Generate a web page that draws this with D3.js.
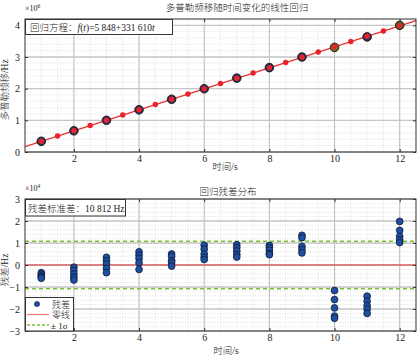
<!DOCTYPE html>
<html><head><meta charset="utf-8">
<script src="https://cdn.jsdelivr.net/npm/d3@7"></script>
<style>
html,body{margin:0;padding:0;background:#fff;}
text{font-family:"Liberation Serif","Noto Sans CJK SC",serif;fill:#222;font-weight:300;}
</style></head>
<body><svg id="c" width="417" height="357"></svg>
<script>
// ---- data ----
const times = [1,2,3,4,5,6,7,8,9,10,11,12];
const observed = [0.337,0.669,1.001,1.333,1.665,1.998,2.333,2.665,2.999,3.303,3.635,3.999]; // x10^6 Hz
const observedFill = ["#2b2d5e","#2b2d5e","#2b2d5e","#2b2d5e","#2b2d5e","#2b2d5e","#2b2d5e","#2b2d5e","#2b2d5e","#6b6a22","#2b2d5e","#3f5e2c"];
const fitT = [1,1.5,2,2.5,3,3.5,4,4.5,5,5.5,6,6.5,7,7.5,8,8.5,9,9.5,10,10.5,11,11.5,12];
const fitV = [0.3375,0.5033,0.6691,0.8349,1.0007,1.1665,1.3323,1.4981,1.6639,1.8297,1.9955,2.1613,2.3271,2.4929,2.6587,2.8245,2.9903,3.1561,3.3219,3.4877,3.6535,3.8193,3.9851];
const lineT = [0.5,12.5];
const lineV = [0.1717,4.1509];
const residuals = [ // x10^4 Hz, per time
  [-0.35,-0.42,-0.5,-0.55,-0.6],
  [-0.1,-0.25,-0.42,-0.56,-0.68],
  [0.35,0.2,0.05,-0.15,-0.35],
  [0.6,0.45,0.3,0.1,-0.2],
  [0.5,0.4,0.2,0.1,-0.05],
  [0.9,0.72,0.5,0.35,0.25],
  [0.92,0.79,0.64,0.48,0.36],
  [0.89,0.79,0.67,0.52,0.47],
  [1.35,1.24,0.85,0.7,0.55],
  [-1.16,-1.57,-1.95,-2.32,-2.42],
  [-1.42,-1.64,-1.85,-2.0,-2.2],
  [1.98,1.57,1.3,1.15,1.02]
];
const sigma = 1.0812;
const xTicks = [2,4,6,8,10,12];
const yTicksTop = [0,1,2,3,4];
const yTicksBot = [-3,-2,-1,0,1,2,3];

const svg = d3.select("#c");
const L = 25, R = 416;

function panel(y0, y1, yDomain, yTicks, yMinorStep){
  const x = d3.scaleLinear().domain([0.5,12.5]).range([L,R]);
  const y = d3.scaleLinear().domain(yDomain).range([y1,y0]);
  const g = svg.append("g");
  const xm = d3.range(1,12.5,0.5);
  g.selectAll(null).data(xm).enter().append("line")
    .attr("x1",d=>x(d)).attr("x2",d=>x(d)).attr("y1",y0).attr("y2",y1)
    .attr("stroke","#d4d4d4").attr("stroke-width",0.7).attr("stroke-dasharray","1,1.5");
  const n = Math.round((yDomain[1]-yDomain[0])/yMinorStep);
  const ym = d3.range(n+1).map(i=>yDomain[0]+i*yMinorStep);
  g.selectAll(null).data(ym).enter().append("line")
    .attr("y1",d=>y(d)).attr("y2",d=>y(d)).attr("x1",L).attr("x2",R)
    .attr("stroke","#d4d4d4").attr("stroke-width",0.7).attr("stroke-dasharray","1,1.5");
  g.selectAll(null).data(xTicks).enter().append("line")
    .attr("x1",d=>x(d)).attr("x2",d=>x(d)).attr("y1",y0).attr("y2",y1)
    .attr("stroke","#bdbdbd").attr("stroke-width",1);
  g.selectAll(null).data(yTicks).enter().append("line")
    .attr("y1",d=>y(d)).attr("y2",d=>y(d)).attr("x1",L).attr("x2",R)
    .attr("stroke","#c6c6c6").attr("stroke-width",1.4);
  return {x,y,g,y0,y1};
}

function axes(p, yTicks){
  const {x,y,y0,y1} = p;
  const fmt = d3.format("d");
  const ax = svg.append("g").attr("transform",`translate(0,${y1})`)
    .call(d3.axisBottom(x).tickValues(xTicks).tickSize(-3).tickPadding(3).tickFormat(fmt));
  const axT = svg.append("g").attr("transform",`translate(0,${y0})`)
    .call(d3.axisTop(x).tickValues(xTicks).tickSize(-3).tickFormat(""));
  const ay = svg.append("g").attr("transform",`translate(${L},0)`)
    .call(d3.axisLeft(y).tickValues(yTicks).tickSize(-3).tickPadding(5).tickFormat(d=>d<0?"\u2212"+(-d):d));
  const ayR = svg.append("g").attr("transform",`translate(${R},0)`)
    .call(d3.axisRight(y).tickValues(yTicks).tickSize(-3).tickFormat(""));
  [ax,axT,ay,ayR].forEach(a=>{
    a.select(".domain").remove();
    a.selectAll("line").attr("stroke","#333");
    a.selectAll("text").attr("font-size",10).attr("font-family","Liberation Serif").attr("fill","#222");
  });
  svg.append("rect").attr("x",L).attr("y",y0).attr("width",R-L).attr("height",y1-y0)
    .attr("fill","none").attr("stroke","#333").attr("stroke-width",1);
}

// ---- top panel ----
const topP = panel(19,152,[0,4.2],yTicksTop,0.2);
const line = d3.line().x((d,i)=>topP.x(lineT[i])).y(d=>topP.y(d));
topP.g.append("path").attr("d",line(lineV)).attr("fill","none").attr("stroke","#e8302c").attr("stroke-width",1.2);
topP.g.selectAll(null).data(times).enter().append("circle")
  .attr("cx",d=>topP.x(d)).attr("cy",(d,i)=>topP.y(observed[i])).attr("r",4.3)
  .attr("fill",(d,i)=>observedFill[i]).attr("stroke","#1a1a1a").attr("stroke-width",0.9);
topP.g.selectAll(null).data(fitT).enter().append("circle")
  .attr("cx",d=>topP.x(d)).attr("cy",(d,i)=>topP.y(fitV[i])).attr("r",2.7)
  .attr("fill","#e8242a");
axes(topP, yTicksTop);
const eb = svg.append("g");
eb.append("rect").attr("x",L+0.5).attr("y",19.5).attr("width",147).attr("height",15)
  .attr("fill","#fff").attr("stroke","#333").attr("stroke-width",1);
const et = eb.append("text").attr("x",30).attr("y",30.5).attr("font-size",9.5);
et.append("tspan").text("回归方程：");
et.append("tspan").attr("font-style","italic").text("f");
et.append("tspan").text("(");
et.append("tspan").attr("font-style","italic").text("t");
et.append("tspan").text(")=5 848+331 610");
et.append("tspan").attr("font-style","italic").text("t");
svg.append("text").attr("x",237).attr("y",11).attr("text-anchor","middle").attr("font-size",9.5).attr("fill","#333").text("多普勒频移随时间变化的线性回归");
svg.append("text").attr("x",225).attr("y",170).attr("text-anchor","middle").attr("font-size",9.5).text("时间/s");
svg.append("text").attr("transform","translate(8,90) rotate(-90)").attr("text-anchor","middle").attr("font-size",9.5).text("多普勒频移/Hz");
const e1 = svg.append("text").attr("x",25).attr("y",11).attr("font-size",8).attr("fill","#333");
e1.append("tspan").text("×10");
e1.append("tspan").attr("font-size",5.5).attr("dy",-3).text("6");

// ---- bottom panel ----
const bot = panel(199,331,[-3,3],yTicksBot,0.2);
bot.g.append("line").attr("x1",L).attr("x2",R).attr("y1",bot.y(0)).attr("y2",bot.y(0))
  .attr("stroke","#e8302c").attr("stroke-width",1);
[sigma,-sigma].forEach(s=>{
  bot.g.append("line").attr("x1",L).attr("x2",R).attr("y1",bot.y(s)).attr("y2",bot.y(s))
    .attr("stroke","#7cc230").attr("stroke-width",1.6).attr("stroke-dasharray","4,3");
});
const pts = [];
residuals.forEach((arr,i)=>arr.forEach(v=>pts.push([times[i],v])));
bot.g.selectAll(null).data(pts).enter().append("circle")
  .attr("cx",d=>bot.x(d[0])).attr("cy",d=>bot.y(d[1])).attr("r",3.4)
  .attr("fill","#1f4f9e").attr("stroke","#0d1c3c").attr("stroke-width",0.8);
axes(bot, yTicksBot);
const sb = svg.append("g");
sb.append("rect").attr("x",L+0.5).attr("y",199.5).attr("width",100).attr("height",16.5)
  .attr("fill","#fff").attr("stroke","#333").attr("stroke-width",1);
sb.append("text").attr("x",28).attr("y",211.5).attr("font-size",9.5).text("残差标准差：10 812 Hz");
const lg = svg.append("g");
lg.append("rect").attr("x",L+0.5).attr("y",297.5).attr("width",48).attr("height",33.5)
  .attr("fill","#fff").attr("stroke","#333").attr("stroke-width",1);
lg.append("circle").attr("cx",37).attr("cy",304).attr("r",2.6).attr("fill","#1f4f9e").attr("stroke","#0d1c3c").attr("stroke-width",0.6);
lg.append("line").attr("x1",27).attr("x2",49).attr("y1",314.5).attr("y2",314.5).attr("stroke","#f07a7a").attr("stroke-width",1.2);
lg.append("line").attr("x1",27).attr("x2",49).attr("y1",325).attr("y2",325).attr("stroke","#7cc230").attr("stroke-width",1.6).attr("stroke-dasharray","3,2");
lg.append("text").attr("x",52).attr("y",307.5).attr("font-size",9).text("残差");
lg.append("text").attr("x",52).attr("y",318).attr("font-size",9).text("零线");
lg.append("text").attr("x",51).attr("y",328.5).attr("font-size",9).text("± 1σ");
svg.append("text").attr("x",228).attr("y",195).attr("text-anchor","middle").attr("font-size",9.5).attr("fill","#333").text("回归残差分布");
svg.append("text").attr("x",226).attr("y",354).attr("text-anchor","middle").attr("font-size",9.5).text("时间/s");
svg.append("text").attr("transform","translate(8,270) rotate(-90)").attr("text-anchor","middle").attr("font-size",9.5).text("残差/Hz");
const e2 = svg.append("text").attr("x",25).attr("y",191).attr("font-size",8).attr("fill","#333");
e2.append("tspan").text("×10");
e2.append("tspan").attr("font-size",5.5).attr("dy",-3).text("4");
</script></body></html>
